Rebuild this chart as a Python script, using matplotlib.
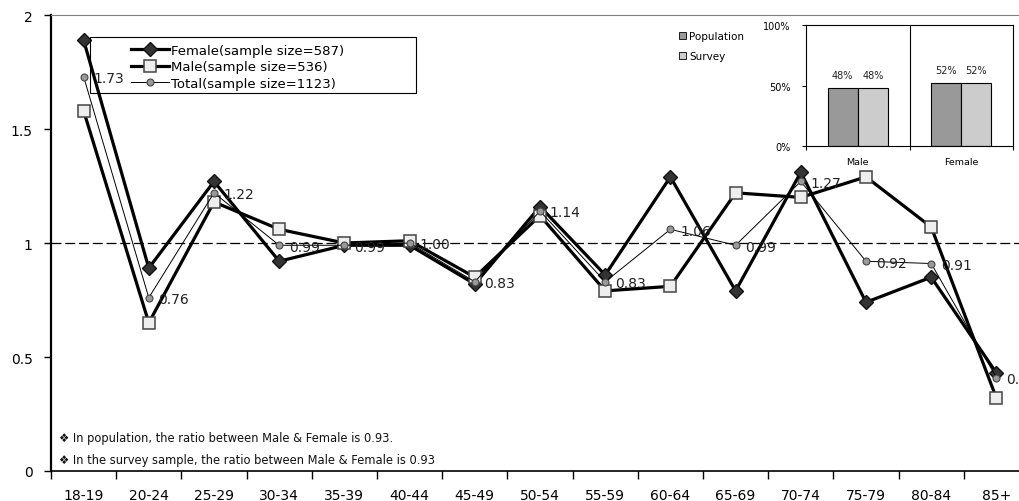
import numpy as np
import matplotlib.pyplot as plt
from matplotlib.patches import Patch, Rectangle

# ratio by age group (sample / population)
age_groups = ["18-19", "20-24", "25-29", "30-34", "35-39", "40-44", "45-49", "50-54",
              "55-59", "60-64", "65-69", "70-74", "75-79", "80-84", "85+"]
female = [1.89, 0.89, 1.27, 0.92, 0.99, 0.99, 0.82, 1.16, 0.86, 1.29, 0.79, 1.31, 0.74, 0.85, 0.43]
male = [1.58, 0.65, 1.18, 1.06, 1.00, 1.01, 0.85, 1.12, 0.79, 0.81, 1.22, 1.20, 1.29, 1.07, 0.32]
total = [1.73, 0.76, 1.22, 0.99, 0.99, 1.00, 0.83, 1.14, 0.83, 1.06, 0.99, 1.27, 0.92, 0.91, 0.41]
series_labels = ["Female(sample size=587)", "Male(sample size=536)", "Total(sample size=1123)"]

# inset: gender share
sexes = ["Male", "Female"]
population_share = [0.48, 0.52]
survey_share = [0.48, 0.52]

notes = ["\u2756 In population, the ratio between Male & Female is 0.93.",
         "\u2756 In the survey sample, the ratio between Male & Female is 0.93"]

plt.rcParams['font.family'] = 'DejaVu Sans'
W, H = 1019, 502
fig = plt.figure(figsize=(W / 100, H / 100), dpi=100)
ax = fig.add_axes([51 / W, 30 / H, 978 / W, 456 / H])

x = np.arange(len(age_groups))
ax.axhline(1, color='black', lw=0.9, ls=(0, (8, 3)), zorder=1)
l_f, = ax.plot(x, female, color='black', lw=2.3, marker='D', ms=6.8, mfc='#333333', mec='#111111', zorder=3)
l_m, = ax.plot(x, male, color='black', lw=2.3, marker='s', ms=9.3, mfc='#eeeeee', mec='#444444', mew=1.1, zorder=4)
l_t, = ax.plot(x, total, color='black', lw=0.7, marker='o', ms=5, mfc='#999999', mec='#444444', mew=0.8, zorder=5)
for xi, v in zip(x, total):
    ax.annotate(f"{v:.2f}", (xi, v), xytext=(7, -1), textcoords='offset points',
                ha='left', va='center', fontsize=10, color='#222222', zorder=6)

ax.set_xlim(-0.5, len(age_groups) - 0.5)
ax.set_ylim(0, 2)
ax.set_xticks(np.arange(-0.5, len(age_groups), 1))
ax.set_xticklabels([])
ax.set_xticks(x, minor=True)
ax.set_xticklabels(age_groups, minor=True, fontsize=10)
ax.tick_params(axis='x', which='major', length=6, width=1, direction='out')
ax.tick_params(axis='x', which='minor', length=0, pad=12)
ax.set_yticks([0, 0.5, 1, 1.5, 2])
ax.set_yticklabels(['0', '0.5', '1', '1.5', '2'], fontsize=10)
ax.tick_params(axis='y', length=5.3, width=1, pad=8)
ax.spines['left'].set_linewidth(1.6)
ax.spines['bottom'].set_linewidth(1.2)
ax.spines['top'].set_color('#808080')
ax.spines['right'].set_visible(False)

# main legend
fig.add_artist(Rectangle((90 / W, 1 - 94 / H), 326 / W, 56 / H, transform=fig.transFigure,
                         fill=False, ec='black', lw=0.8))
fig.legend([l_f, l_m, l_t], series_labels, loc='upper left', bbox_to_anchor=(131 / W, 1 - 45 / H),
           frameon=False, fontsize=9.5, handlelength=2.9, handletextpad=0.15, labelspacing=0.25,
           borderpad=0, borderaxespad=0)

for i, t in enumerate(notes):
    fig.text(59 / W, 1 - (439 + 22 * i) / H, t, fontsize=8.3, va='center', color='#111111')

# inset bar chart
ins = fig.add_axes([806 / W, 1 - 147 / H, 207 / W, 120.7 / H])
xs = np.arange(len(sexes))
bw = 0.29
b1 = ins.bar(xs - bw / 2, population_share, bw, color='#999999', edgecolor='black', lw=0.8)
b2 = ins.bar(xs + bw / 2, survey_share, bw, color='#cccccc', edgecolor='black', lw=0.8)
for bars in (b1, b2):
    for b in bars:
        ins.text(b.get_x() + b.get_width() / 2, b.get_height() + 0.07, f"{b.get_height():.0%}",
                 ha='center', va='bottom', fontsize=7, color='#222222')
ins.axvline(0.5, color='black', lw=0.8)
ins.set_xlim(-0.5, 1.5)
ins.set_ylim(0, 1)
ins.set_xticks([-0.5, 0.5, 1.5])
ins.set_xticklabels([])
ins.set_xticks(xs, minor=True)
ins.set_xticklabels(sexes, minor=True, fontsize=6.8)
ins.tick_params(axis='x', which='major', length=3, direction='out')
ins.tick_params(axis='x', which='minor', length=0, pad=8)
ins.set_yticks([0, 0.5, 1])
ins.set_yticklabels(['0%', '50%', '100%'], fontsize=7)
ins.tick_params(axis='y', length=3, pad=8)
for s in ins.spines.values():
    s.set_linewidth(0.8)

fig.legend([Patch(fc='#999999', ec='black', lw=0.6), Patch(fc='#cccccc', ec='black', lw=0.6)],
           ['Population', 'Survey'], loc='upper left', bbox_to_anchor=(679 / W, 1 - 32 / H),
           frameon=False, fontsize=7.5, handlelength=0.7, handleheight=0.7, handletextpad=0.25,
           labelspacing=0.95, borderpad=0, borderaxespad=0)

fig.savefig('out.png', dpi=100)
